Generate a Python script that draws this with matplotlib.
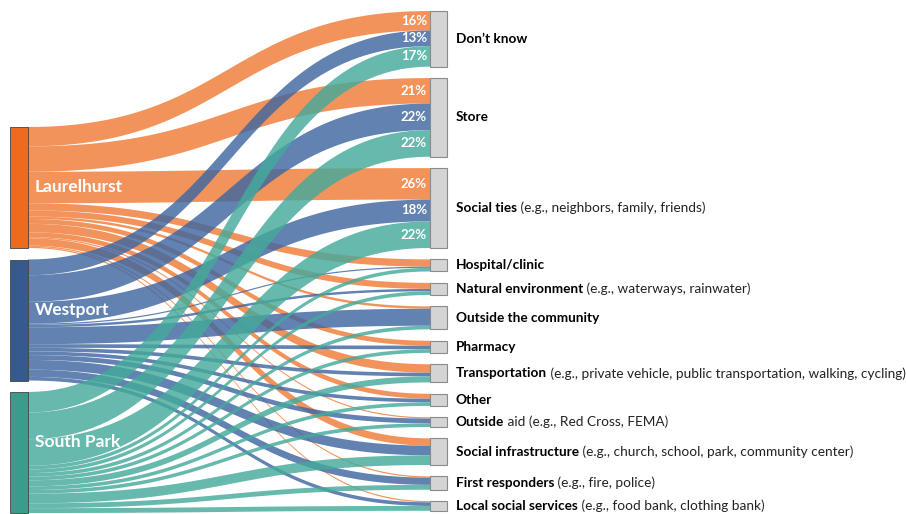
import numpy as np
import matplotlib
matplotlib.use("Agg")
import matplotlib.pyplot as plt
from matplotlib.patches import Rectangle, Polygon

# --- data (percent of respondents per community) ---
communities = ["Laurelhurst", "Westport", "South Park"]
resources = [
    ("Don\u2019t know", ""),
    ("Store", ""),
    ("Social ties", " (e.g., neighbors, family, friends)"),
    ("Hospital/clinic", ""),
    ("Natural environment", " (e.g., waterways, rainwater)"),
    ("Outside the community", ""),
    ("Pharmacy", ""),
    ("Transportation", " (e.g., private vehicle, public transportation, walking, cycling)"),
    ("Other", ""),
    ("Outside", " aid (e.g., Red Cross, FEMA)"),
    ("Social infrastructure", " (e.g., church, school, park, community center)"),
    ("First responders", " (e.g., fire, police)"),
    ("Local social services", " (e.g., food bank, clothing bank)"),
]
laurelhurst = [16, 21, 26, 6, 5, 2, 4, 7, 4, 1, 6, 1, 1]
westport = [13, 22, 18, 1, 2, 14, 3, 3, 3, 4, 8, 6, 3]
south_park = [17, 22, 22, 3, 3, 3, 3, 5, 3, 3, 8, 4, 4]
labelled = 3  # the first three resources carry percent labels

flow_colors = ["#F07C38", "#3F66A0", "#45AA9B"]
node_colors = ["#EE6A1C", "#355A8E", "#3C9C8C"]
label_frac = [0.5, 0.42, 0.41]  # where the community name sits inside its node

# --- layout (pixel units) ---
W, H = 906, 514
SCALE = 1.21
LEFT_X0, LEFT_X1 = 10, 28
RIGHT_X0, RIGHT_X1 = 430, 447
LEFT_TOP, LEFT_GAP = 127, 11.5
RIGHT_TOP, RIGHT_GAP = 11, 11.4

values = np.array([laurelhurst, westport, south_park], dtype=float)

fig = plt.figure(figsize=(W / 100, H / 100), dpi=100)
ax = fig.add_axes([0, 0, 1, 1])
ax.set_xlim(0, W)
ax.set_ylim(H, 0)
ax.axis("off")

# node positions
left_tops = []
y = LEFT_TOP
for i in range(len(communities)):
    left_tops.append(y)
    y += values[i].sum() * SCALE + LEFT_GAP
right_tops = []
y = RIGHT_TOP
for j in range(len(resources)):
    right_tops.append(y)
    y += values[:, j].sum() * SCALE + RIGHT_GAP


def bezier_edge(x0, y0, x1, y1, n=60):
    t = np.linspace(0, 1, n)
    xm = (x0 + x1) / 2
    xs = (1 - t) ** 3 * x0 + 3 * (1 - t) ** 2 * t * xm + 3 * (1 - t) * t ** 2 * xm + t ** 3 * x1
    ys = (1 - t) ** 3 * y0 + 3 * (1 - t) ** 2 * t * y0 + 3 * (1 - t) * t ** 2 * y1 + t ** 3 * y1
    return xs, ys


# offsets at each end of the flows
right_offsets = [0.0] * len(resources)
pct_labels = []
for i in range(len(communities)):
    left_off = 0.0
    for j in range(len(resources)):
        h = values[i, j] * SCALE
        y0 = left_tops[i] + left_off
        y1 = right_tops[j] + right_offsets[j]
        xt, yt = bezier_edge(LEFT_X1, y0, RIGHT_X0, y1)
        xb, yb = bezier_edge(LEFT_X1, y0 + h, RIGHT_X0, y1 + h)
        pts = np.column_stack([np.concatenate([xt, xb[::-1]]), np.concatenate([yt, yb[::-1]])])
        ax.add_patch(Polygon(pts, closed=True, facecolor=flow_colors[i], edgecolor="none",
                             alpha=0.82, zorder=2))
        if j < labelled:
            pct_labels.append((RIGHT_X0 - 3, y1 + h / 2, f"{int(values[i, j])}%"))
        left_off += h
        right_offsets[j] += h

for x, y, s in pct_labels:
    ax.text(x, y, s, color="white", fontsize=9.5, fontweight="bold", family="Lato",
            ha="right", va="center", zorder=5)

# left nodes
for i, name in enumerate(communities):
    h = values[i].sum() * SCALE
    ax.add_patch(Rectangle((LEFT_X0, left_tops[i]), LEFT_X1 - LEFT_X0, h,
                           facecolor=node_colors[i], edgecolor="#444444", linewidth=0.6, zorder=4))
    ax.text(LEFT_X1 + 7, left_tops[i] + h * label_frac[i], name, color="white", fontsize=12.5,
            fontweight="bold", family="Lato", ha="left", va="center", zorder=5)

# right nodes and labels
fig.canvas.draw()
renderer = fig.canvas.get_renderer()
for j, (bold, rest) in enumerate(resources):
    h = values[:, j].sum() * SCALE
    ax.add_patch(Rectangle((RIGHT_X0, right_tops[j]), RIGHT_X1 - RIGHT_X0, h,
                           facecolor="#D4D4D4", edgecolor="#8A8A8A", linewidth=0.8, zorder=4))
    yc = right_tops[j] + h / 2
    t = ax.text(RIGHT_X1 + 9, yc, bold, color="black", fontsize=9.8, fontweight="bold",
                family="Lato", ha="left", va="center")
    if rest:
        bb = t.get_window_extent(renderer)
        ax.text(bb.x1, yc, rest, color="#222222", fontsize=9.8, family="Lato",
                ha="left", va="center")

fig.savefig("out.png", dpi=100)
